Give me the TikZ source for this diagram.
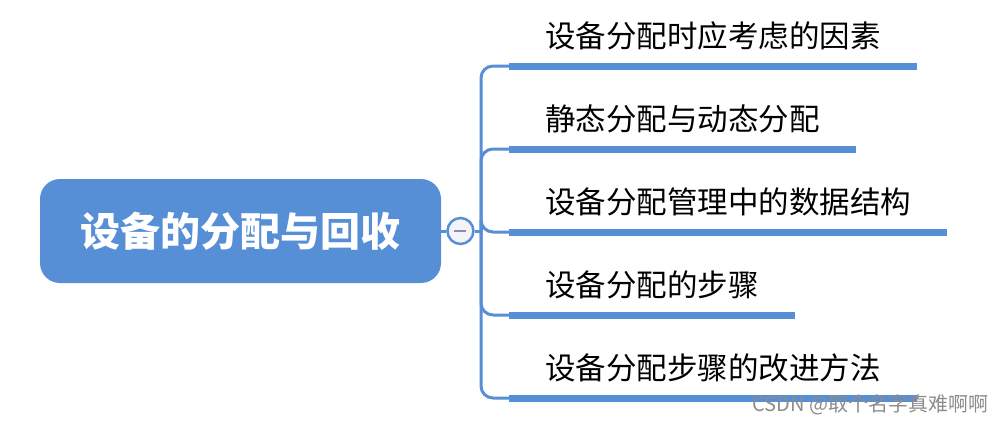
\documentclass[tikz,border=0pt]{standalone}
\usepackage{fontspec}
\newfontfamily\cjk{Noto Sans CJK SC}
\definecolor{mapblue}{RGB}{86, 143, 214}
\definecolor{foldfill}{RGB}{244, 244, 248}
\definecolor{foldmark}{RGB}{138, 138, 184}
\usepackage{tikz}
\usetikzlibrary{positioning}

\tikzset{
  rootbox/.style={fill=mapblue, rounded corners=20pt, minimum width=401pt, minimum height=104pt,
    text=white, font=\cjk\bfseries\fontsize{40}{46}\selectfont},
  foldbtn/.style={circle, draw=mapblue, line width=2.5pt, fill=foldfill, minimum size=26pt, inner sep=0pt},
  topic/.style={anchor=south west, inner xsep=36pt, inner ysep=0pt, minimum height=60pt,
    text=black, font=\cjk\fontsize{30.5}{36}\selectfont},
  link/.style={draw=mapblue, line width=3pt, rounded corners=12pt},
  bar/.style={draw=mapblue, line width=7pt},
  wmark/.style={anchor=west, text=black!45, font=\cjk\fontsize{20}{24}\selectfont}
}

\begin{document}
\begin{tikzpicture}[x=1pt, y=-1pt]
  \useasboundingbox (0,0) rectangle (999,424);

  % central topic and fold button
  \node[rootbox] (root) at (240.5,231) {设备的分配与回收};
  \node[foldbtn, right=5pt of root] (fold) {};
  \draw[foldmark, line width=2.5pt] (fold.center) ++(-6,0) -- ++(12,0);
  \coordinate (hub) at (481,231);
  \draw[link] (root) -- (fold) -- (hub);

  % subtopics
  \foreach \y/\txt [count=\i] in {66/设备分配时应考虑的因素, 149/静态分配与动态分配,
      232/设备分配管理中的数据结构, 315/设备分配的步骤, 398/设备分配步骤的改进方法} {
    \node[topic] (b\i) at (509,\y) {\txt};
    \draw[link] (hub) |- (b\i.south west);
    \draw[bar] (b\i.south west) -- (b\i.south east);
  }

  \node[wmark] (wm) at (749,405) {CSDN @取个名字真难啊啊};
\end{tikzpicture}
\end{document}
